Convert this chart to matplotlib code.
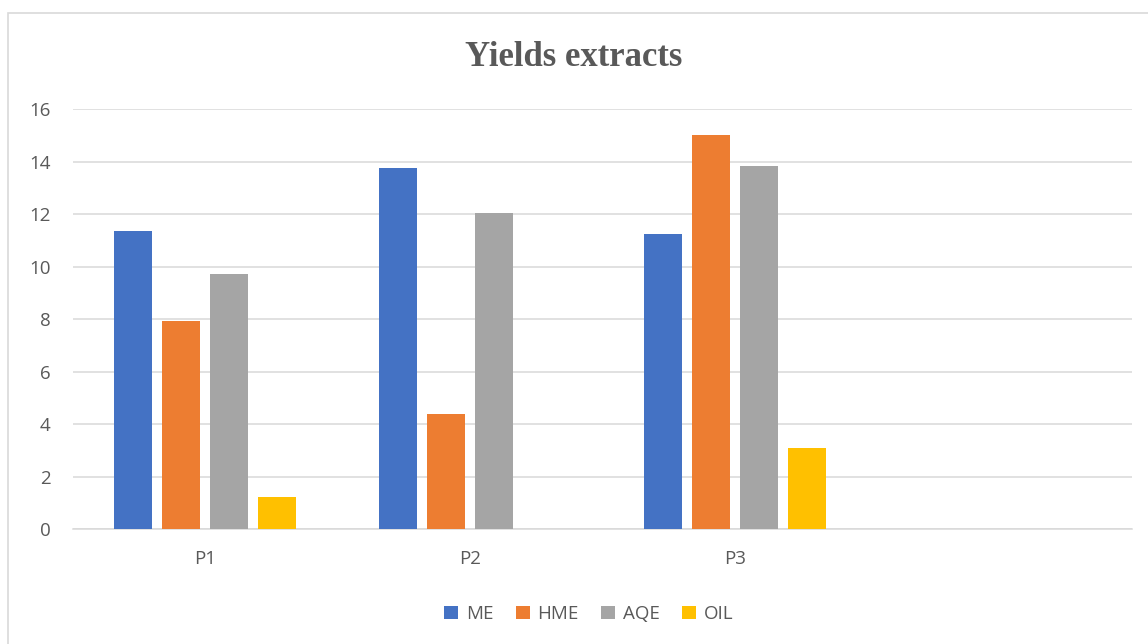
import numpy as np
import matplotlib.pyplot as plt
from matplotlib.patches import Rectangle

plt.rcParams['font.family'] = ['Open Sans', 'DejaVu Sans']

# yields per extract type
categories = ['P1', 'P2', 'P3', '']
series = ['ME', 'HME', 'AQE', 'OIL']
me = [11.36, 13.78, 11.24, np.nan]
hme = [7.93, 4.39, 15.01, np.nan]
aqe = [9.71, 12.04, 13.85, np.nan]
oil = [1.24, 0.0, 3.09, np.nan]
colors = ['#4472C4', '#ED7D31', '#A5A5A5', '#FFC000']

fig = plt.figure(figsize=(11.48, 6.44), dpi=100)
ax = fig.add_axes([73/1148, 1-529.3/644, (1132-73)/1148, (529.3-109.3)/644])

x = np.arange(len(categories))
width = 0.1435
step = 0.1813
for i, (name, vals) in enumerate(zip(series, [me, hme, aqe, oil])):
    ax.bar(x + (i - 1.5)*step, vals, width, color=colors[i], label=name, zorder=3)

ax.set_xlim(-0.5, 3.5)
ax.set_ylim(0, 16)
ax.set_yticks(range(0, 17, 2))
ax.set_xticks(x)
ax.set_xticklabels(categories)
ax.grid(axis='y', color='#d9d9d9', lw=1.1, zorder=0)
for s in ['top', 'right', 'left']:
    ax.spines[s].set_visible(False)
ax.spines['bottom'].set_color('#d9d9d9')
ax.spines['bottom'].set_linewidth(1.1)
ax.tick_params(axis='both', length=0, labelsize=13.5, labelcolor='#595959')
ax.tick_params(axis='y', pad=16)
ax.tick_params(axis='x', pad=15)

fig.text(0.5, 1-57/644, 'Yields extracts', ha='center', va='center',
         family='Liberation Serif', fontweight='bold', fontsize=25, color='#595959')

leg = fig.legend(loc='center', bbox_to_anchor=(589/1148, 1-614/644), ncol=4,
                 frameon=False, fontsize=13.5, handlelength=0.75, handleheight=0.75,
                 handletextpad=0.4, columnspacing=1.2)
for t in leg.get_texts():
    t.set_color('#595959')

# chart border
fig.patches.append(Rectangle((8/1148, -0.05), 1.1, 1-13/644+0.05, transform=fig.transFigure,
                             fill=False, edgecolor='#d9d9d9', lw=1.2))

fig.savefig('out.png', dpi=100)
